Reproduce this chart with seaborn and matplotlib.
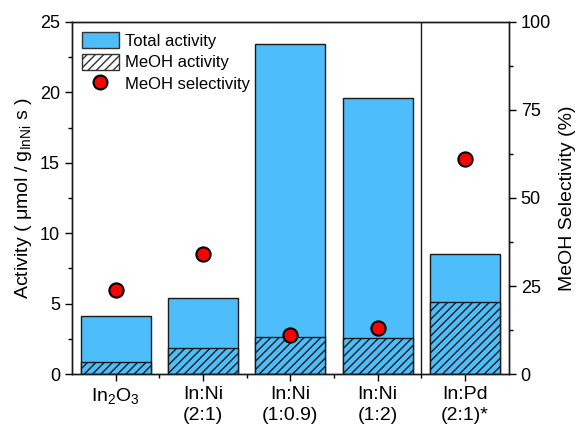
import matplotlib
matplotlib.use("Agg")
import matplotlib.pyplot as plt
import seaborn as sns
import pandas as pd
from matplotlib.patches import Patch
from matplotlib.lines import Line2D
from matplotlib.ticker import MultipleLocator, FixedLocator

sns.set_style("ticks")
plt.rcParams["font.family"] = ["Liberation Sans", "DejaVu Sans"]
plt.rcParams["mathtext.fontset"] = "custom"
plt.rcParams["mathtext.rm"] = "Liberation Sans"
plt.rcParams["mathtext.it"] = "Liberation Sans:italic"
plt.rcParams["hatch.linewidth"] = 1.0
plt.rcParams["text.color"] = "black"
plt.rcParams["axes.labelcolor"] = "black"
plt.rcParams["xtick.color"] = "black"
plt.rcParams["ytick.color"] = "black"

catalysts = ["In$_2$O$_3$", "In:Ni\n(2:1)", "In:Ni\n(1:0.9)", "In:Ni\n(1:2)", "In:Pd\n(2:1)*"]
total_activity = [4.14, 5.38, 23.45, 19.6, 8.5]
meoh_activity = [0.88, 1.82, 2.6, 2.55, 5.1]
meoh_selectivity = [24.0, 34.0, 11.1, 13.0, 61.0]

df = pd.DataFrame({
    "catalyst": catalysts,
    "total": total_activity,
    "meoh": meoh_activity,
    "selectivity": meoh_selectivity,
})

blue = "#4DBEFA"
edge = "#1a1a1a"

fig, ax = plt.subplots(figsize=(5.75, 4.29), dpi=100)
fig.subplots_adjust(left=0.125, right=0.885, top=0.949, bottom=0.128)

sns.barplot(data=df, x="catalyst", y="total", color=blue, saturation=1,
            width=0.8, edgecolor=edge, linewidth=1.0, ax=ax)
n_total = len(ax.patches)
sns.barplot(data=df, x="catalyst", y="meoh", color=blue, saturation=1,
            width=0.8, edgecolor=edge, linewidth=1.0, ax=ax)
for p in ax.patches[n_total:]:
    p.set_hatch("////")

ax.axvline(3.5, color=edge, lw=1.0)
ax.set_xlim(-0.5, 4.5)
ax.set_ylim(0, 25)
ax.yaxis.set_major_locator(MultipleLocator(5))
ax.yaxis.set_minor_locator(MultipleLocator(2.5))
ax.xaxis.set_minor_locator(FixedLocator([0.5, 1.5, 2.5, 3.5]))
ax.set_xlabel("")
ax.set_ylabel("Activity ( μmol / g$_{\\mathrm{InNi}}$ s )", fontsize=14, labelpad=4)
ax.tick_params(axis="y", which="major", labelsize=13, direction="out", length=5, width=1)
ax.tick_params(axis="x", which="major", labelsize=14, direction="out", length=5, width=1)
ax.tick_params(axis="both", which="minor", direction="out", length=3, width=1)
for lab in ax.get_xticklabels():
    lab.set_linespacing(1.3)
for s in ax.spines.values():
    s.set_linewidth(1.0)
    s.set_color(edge)
    s.set_visible(True)

ax2 = ax.twinx()
sns.scatterplot(data=df, x="catalyst", y="selectivity", color="#FF0000", s=105,
                edgecolor="black", linewidth=1.5, zorder=5, ax=ax2, legend=False)
ax2.set_ylim(0, 100)
ax2.set_xlim(-0.5, 4.5)
ax2.yaxis.set_major_locator(MultipleLocator(25))
ax2.yaxis.set_minor_locator(MultipleLocator(12.5))
ax2.set_ylabel("MeOH Selectivity (%)", fontsize=14, labelpad=6)
ax2.tick_params(axis="y", which="major", labelsize=13, direction="out", length=5, width=1)
ax2.tick_params(axis="y", which="minor", direction="out", length=3, width=1)
for s in ax2.spines.values():
    s.set_linewidth(1.0)
    s.set_color(edge)

handles = [
    Patch(facecolor=blue, edgecolor="#333333", label="Total activity"),
    Patch(facecolor="white", edgecolor="#333333", hatch="////", label="MeOH activity"),
    Line2D([], [], marker="o", color="none", markerfacecolor="#FF0000",
           markeredgecolor="black", markersize=10, markeredgewidth=1.5, label="MeOH selectivity"),
]
ax2.legend(handles=handles, loc="upper left", frameon=False,
           fontsize=12, handlelength=2.2, handleheight=1.1, handletextpad=0.4,
           labelspacing=0.3, borderaxespad=0.2, borderpad=0.4)

fig.savefig("out.png", dpi=100)
